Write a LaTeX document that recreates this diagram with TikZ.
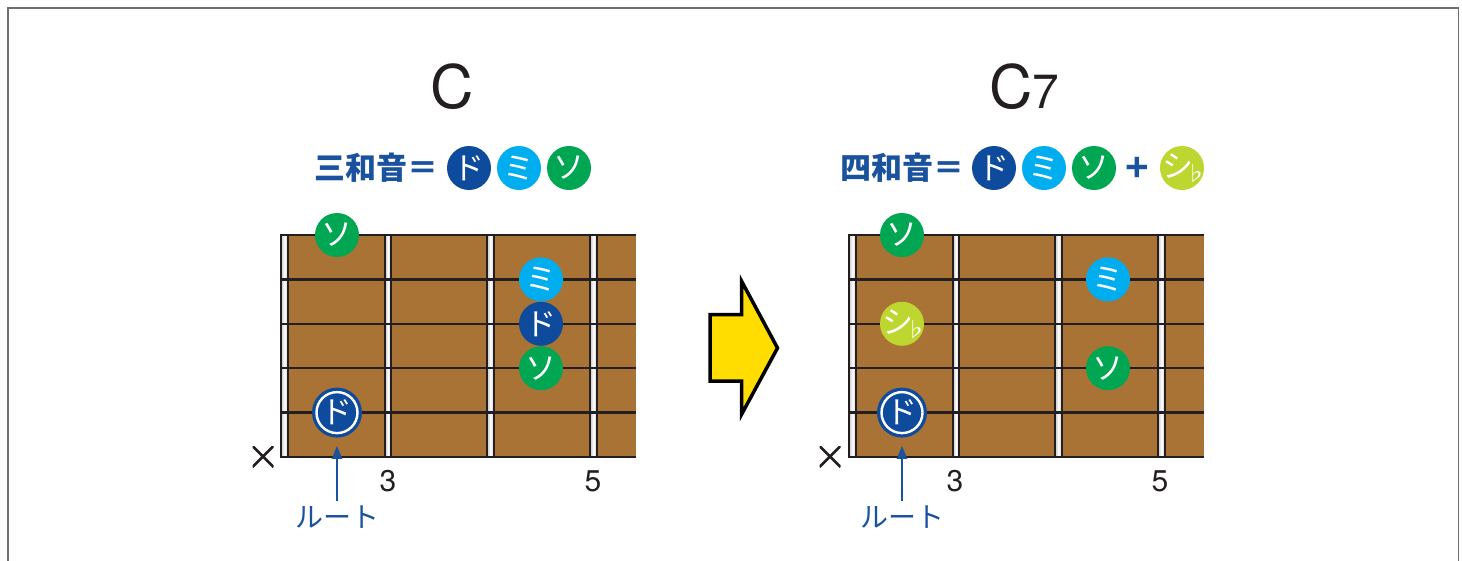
\documentclass[tikz,border=0pt]{standalone}
\usepackage{fontspec}
\setmainfont{TeX Gyre Heros}
\newfontfamily\jp{Noto Sans CJK JP}
\usetikzlibrary{arrows.meta}
\definecolor{doC}{RGB}{14,75,157}
\definecolor{miC}{RGB}{0,174,239}
\definecolor{soC}{RGB}{0,166,81}
\definecolor{siC}{RGB}{190,214,48}
\definecolor{headC}{RGB}{27,82,158}
\definecolor{boardC}{RGB}{168,115,52}
\definecolor{inkC}{RGB}{35,31,32}
\definecolor{arrowY}{RGB}{255,221,0}
\definecolor{frameC}{RGB}{110,110,110}
\tikzset{
  note/.style={circle, minimum size=44pt, inner sep=0pt, text=white,
    font=\jp\fontsize{31}{31}\selectfont},
  notedo/.style={note, fill=doC},
  notemi/.style={note, fill=miC},
  noteso/.style={note, fill=soC},
  notesi/.style={note, fill=siC},
  noteroot/.style={note, fill=doC, minimum size=50pt,
    path picture={\draw[white,line width=2.4pt] (path picture bounding box.center) circle (20.5pt);}},
  fretbar/.style={left color=gray!45, right color=gray!45, middle color=white, draw=inkC, line width=1.1pt},
  stringline/.style={draw=inkC, line width=2.4pt},
  heading/.style={text=headC, font=\jp\bfseries\fontsize{31}{31}\selectfont, inner sep=0pt},
  fretnum/.style={text=inkC, font=\fontsize{30}{30}\selectfont, inner sep=0pt},
  title/.style={text=inkC, font=\fontsize{60}{60}\selectfont, inner sep=0pt, anchor=base},
  rootlbl/.style={text=headC, font=\jp\fontsize{28}{28}\selectfont, inner sep=0pt},
  rootarrow/.style={draw=headC, line width=2pt, -{Triangle[width=10pt,length=13pt]}},
  xmark/.style={minimum size=21pt, inner sep=0pt,
    path picture={\draw[line width=2.6pt,inkC]
      (path picture bounding box.south west)--(path picture bounding box.north east)
      (path picture bounding box.north west)--(path picture bounding box.south east);}},
  bigarrow/.style={fill=arrowY, draw=black, line width=3.5pt, line join=miter},
}
\newcommand\flatsi{\makebox[0pt][c]{\hspace*{-8pt}シ}\makebox[0pt][c]{\hspace*{27pt}{\fontsize{21}{21}\selectfont\raisebox{-4pt}{♭}}}}
\newcommand\drawboard[1]{%
  \begin{scope}[xshift=#1pt]
    \fill[boardC] (281,235) rectangle (636,457);
    \foreach \a/\b in {281/288, 385/391, 487/494, 590/597}
      \filldraw[fretbar] (\a,235) rectangle (\b,457);
    \foreach \y in {235, 279.4, 323.8, 368.2, 412.6, 457}
      \draw[stringline] (281,\y) -- (636,\y);
  \end{scope}}
\begin{document}
\begin{tikzpicture}[x=1pt,y=-1pt]
\useasboundingbox (0,0) rectangle (1462,560);
\begin{scope}
\clip (0,0) rectangle (1462,560);
\draw[frameC, line width=1.5pt] (8,8) rectangle (1458.5,600);
\end{scope}

% ---------- left : C ----------
\node[title] (tC) at (452,108) {C};
\node[heading] (hL) at (376,168) {三和音＝};
\node[notedo] (hLdo) at (469,168) {ド};
\node[notemi] (hLmi) at (519,168) {ミ};
\node[noteso] (hLso) at (569,168) {ソ};

\drawboard{0}
\node[noteso] (lso1) at (337,235) {ソ};
\node[notemi] (lmi) at (541,279.4) {ミ};
\node[notedo] (ldo) at (541,323.8) {ド};
\node[noteso] (lso2) at (541,368.2) {ソ};
\node[noteroot] (lroot) at (337,412.6) {ド};
\node[xmark] (lx) at (263,456.5) {};
\node[fretnum] (l3) at (388,481) {3};
\node[fretnum] (l5) at (593,481) {5};
\node[rootlbl] (lrl) at (337,517) {ルート};
\draw[rootarrow, shorten <=5pt, shorten >=8pt] (lrl.north) -- (lroot.south);

% ---------- big arrow ----------
\path[bigarrow] (710,314.5) -- (741.5,314.5) -- (741.5,281) -- (777.5,348) -- (741.5,414.5) -- (741.5,381) -- (710,381) -- cycle;

% ---------- right : C7 ----------
\node[title] (tC7) at (1024,108) {C{\fontsize{48}{48}\selectfont 7}};
\node[heading] (hR) at (902,168) {四和音＝};
\node[notedo] (hRdo) at (994,168) {ド};
\node[notemi] (hRmi) at (1044,168) {ミ};
\node[noteso] (hRso) at (1094,168) {ソ};
\node[text=headC, font=\bfseries\fontsize{44}{44}\selectfont, inner sep=0pt] (hRplus) at (1137,168) {+};
\node[notesi] (hRsi) at (1182,168) {\flatsi};

\drawboard{568}
\node[noteso] (rso1) at (902,235) {ソ};
\node[notesi] (rsi) at (902,323.8) {\flatsi};
\node[noteroot] (rroot) at (902,412.6) {ド};
\node[notemi] (rmi) at (1108,279.4) {ミ};
\node[noteso] (rso2) at (1108,368.2) {ソ};
\node[xmark] (rx) at (830,456.5) {};
\node[fretnum] (r3) at (955,481) {3};
\node[fretnum] (r5) at (1160,481) {5};
\node[rootlbl] (rrl) at (902,517) {ルート};
\draw[rootarrow, shorten <=5pt, shorten >=8pt] (rrl.north) -- (rroot.south);
\end{tikzpicture}
\end{document}
